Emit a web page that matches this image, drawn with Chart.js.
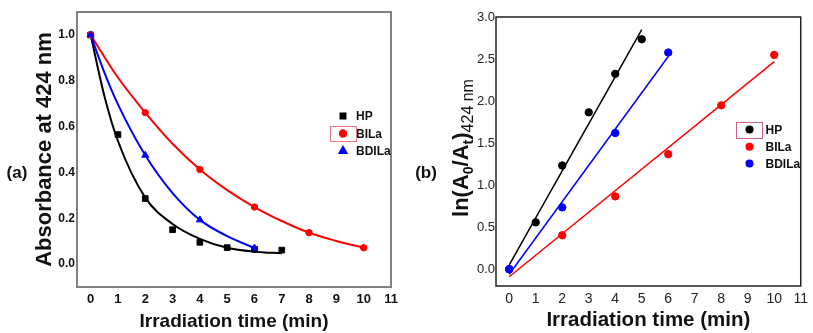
<!DOCTYPE html>
<html>
<head>
<meta charset="utf-8">
<script src="https://cdn.jsdelivr.net/npm/chart.js@4.4.0/dist/chart.umd.min.js"></script>
<style>
  html, body { margin: 0; padding: 0; background: #fff; }
  #wrap { position: relative; width: 813px; height: 333px; }
  canvas { position: absolute; top: 0; }
  #chartA { left: 0; }
  #chartB { left: 410px; }
</style>
</head>
<body>
<div id="wrap">
  <canvas id="chartA" width="410" height="333"></canvas>
  <canvas id="chartB" width="403" height="333"></canvas>
</div>
<script>
// ---- data ----
const seriesNames = ['HP', 'BILa', 'BDILa'];
const seriesColors = ['#000000', '#ff0000', '#0000ff'];
const xTicks = [0, 1, 2, 3, 4, 5, 6, 7, 8, 9, 10, 11];
const yTicksA = [0, 0.2, 0.4, 0.6, 0.8, 1.0];
const yTicksB = [0, 0.5, 1.0, 1.5, 2.0, 2.5, 3.0];

// (a) absorbance at 424 nm
const timeHP = [0, 1, 2, 3, 4, 5, 6, 7];
const absHP = [1.0, 0.565, 0.286, 0.15, 0.095, 0.072, 0.065, 0.061];
const timeBILa = [0, 2, 4, 6, 8, 10];
const absBILa = [1.0, 0.661, 0.413, 0.249, 0.137, 0.071];
const timeBDILa = [0, 2, 4, 6];
const absBDILa = [1.0, 0.475, 0.193, 0.07];

// (a) decay fit curves
const fitTimeHP = [0, 0.5, 1, 2, 3, 4, 5, 6, 7];
const fitHP = [1.0, 0.735, 0.537, 0.29, 0.175, 0.11, 0.071, 0.054, 0.047];
const fitTimeBILa = [0, 1, 2, 3, 4, 5, 6, 7, 8, 9, 10];
const fitBILa = [1.0, 0.814, 0.661, 0.525, 0.413, 0.323, 0.249, 0.188, 0.137, 0.101, 0.071];
const fitTimeBDILa = [0, 0.5, 1, 2, 3, 4, 5, 6];
const fitBDILa = [1.0, 0.837, 0.697, 0.475, 0.31, 0.193, 0.122, 0.07];

// (b) ln(A0/At)
const timeHPb = [0, 1, 2, 3, 4, 5];
const lnHP = [0, 0.557, 1.233, 1.866, 2.324, 2.735];
const timeBILab = [0, 2, 4, 6, 8, 10];
const lnBILa = [0, 0.403, 0.866, 1.368, 1.949, 2.549];
const timeBDILab = [0, 2, 4, 6];
const lnBDILa = [0, 0.735, 1.62, 2.577];

// (b) linear fits (end points)
const lineTimeHP = [0, 5];
const lineHP = [0.05, 2.85];
const lineTimeBILa = [0, 10];
const lineBILa = [-0.09, 2.47];
const lineTimeBDILa = [0, 6];
const lineBDILa = [-0.06, 2.53];

const font = 'Arial, "Liberation Sans", sans-serif';

function pts(xs, ys) {
  return xs.map((x, i) => ({ x: x, y: ys[i] }));
}

function markerSet(label, xs, ys, color, style, r) {
  return {
    label: label, data: pts(xs, ys), showLine: false,
    pointStyle: style, pointRadius: r, pointHoverRadius: r,
    backgroundColor: color, borderColor: color, borderWidth: 1
  };
}

function lineSet(xs, ys, color, w, smooth) {
  return {
    label: '', data: pts(xs, ys), showLine: true, pointRadius: 0, pointHoverRadius: 0,
    borderColor: color, backgroundColor: color, borderWidth: w, fill: false,
    cubicInterpolationMode: smooth ? 'monotone' : 'default', tension: 0
  };
}

function axisX(tickFont, tickColor, titleSize, height) {
  return {
    type: 'linear', min: -0.5, max: 11,
    afterBuildTicks: s => { s.ticks = xTicks.map(v => ({ value: v })); },
    afterFit: s => { s.height = height; },
    grid: { display: false, drawTicks: false },
    border: { display: false },
    ticks: { font: tickFont, color: tickColor, padding: 5, autoSkip: false, maxRotation: 0, callback: v => String(v) },
    title: { display: true, text: 'Irradiation time (min)', color: '#111', padding: 0,
             font: { family: font, size: titleSize, weight: 'bold' } }
  };
}

function drawLegend(ctx, styles, mx, tx, rows, radius) {
  ctx.font = 'bold 12px ' + font;
  ctx.textAlign = 'left';
  ctx.textBaseline = 'middle';
  seriesNames.forEach((name, i) => {
    ctx.fillStyle = seriesColors[i];
    ctx.strokeStyle = seriesColors[i];
    Chart.helpers.drawPoint(ctx, { pointStyle: styles[i], radius: radius[i], rotation: 0, borderWidth: 1 }, mx, rows[i]);
    ctx.fillStyle = '#111';
    ctx.fillText(name, tx, rows[i] + 1);
  });
}

// Chart.js paints the first dataset last, so markers go first (on top),
// with BDILa above BILa above HP where they overlap at t = 0.

// ---- (a) absorbance decay ----
new Chart(document.getElementById('chartA'), {
  type: 'scatter',
  data: {
    datasets: [
      markerSet(seriesNames[2], timeBDILa, absBDILa, seriesColors[2], 'triangle', 4),
      markerSet(seriesNames[1], timeBILa, absBILa, seriesColors[1], 'circle', 3.2),
      markerSet(seriesNames[0], timeHP, absHP, seriesColors[0], 'rect', 4),
      lineSet(fitTimeBDILa, fitBDILa, seriesColors[2], 2, true),
      lineSet(fitTimeBILa, fitBILa, seriesColors[1], 2, true),
      lineSet(fitTimeHP, fitHP, seriesColors[0], 2, true)
    ]
  },
  options: {
    responsive: false,
    animation: false,
    devicePixelRatio: 1,
    layout: { padding: { left: 32, right: 19, top: 12, bottom: 0 } },
    plugins: { legend: { display: false }, tooltip: { enabled: false } },
    scales: {
      x: axisX({ family: font, size: 13, weight: 'bold' }, '#111', 19, 46),
      y: {
        type: 'linear', min: -0.1, max: 1.1,
        afterBuildTicks: s => { s.ticks = yTicksA.map(v => ({ value: v })); },
        afterFit: s => { s.width = 45; },
        grid: { display: false, drawTicks: false },
        border: { display: false },
        ticks: { font: { family: font, size: 12, weight: 'bold' }, color: '#111', padding: 2, callback: v => v.toFixed(1) },
        title: { display: true, text: 'Absorbance at 424 nm', color: '#111', padding: 0,
                 font: { family: font, size: 22, weight: 'bold' } }
      }
    }
  },
  plugins: [{
    id: 'panelA',
    afterDraw(chart) {
      const { ctx, chartArea: a } = chart;
      ctx.save();
      ctx.strokeStyle = '#808080';
      ctx.lineWidth = 2;
      ctx.strokeRect(a.left, a.top, a.right - a.left, a.bottom - a.top);

      drawLegend(ctx, ['rect', 'circle', 'triangle'], 343, 356, [116, 133.5, 151], [3.5, 3.2, 4]);
      ctx.strokeStyle = '#e8798a';
      ctx.lineWidth = 1;
      ctx.strokeRect(330.5, 126.5, 26, 15);

      ctx.fillStyle = '#111';
      ctx.font = 'bold 17px ' + font;
      ctx.textAlign = 'center';
      ctx.textBaseline = 'middle';
      ctx.fillText('(a)', 17, 173);
      ctx.restore();
    }
  }]
});

// ---- (b) first-order kinetics ----
new Chart(document.getElementById('chartB'), {
  type: 'scatter',
  data: {
    datasets: [
      markerSet(seriesNames[2], timeBDILab, lnBDILa, seriesColors[2], 'circle', 3.7),
      markerSet(seriesNames[1], timeBILab, lnBILa, seriesColors[1], 'circle', 3.7),
      markerSet(seriesNames[0], timeHPb, lnHP, seriesColors[0], 'circle', 3.7),
      lineSet(lineTimeBDILa, lineBDILa, seriesColors[2], 1.5, false),
      lineSet(lineTimeBILa, lineBILa, seriesColors[1], 1.5, false),
      lineSet(lineTimeHP, lineHP, seriesColors[0], 1.5, false)
    ]
  },
  options: {
    responsive: false,
    animation: false,
    devicePixelRatio: 1,
    layout: { padding: { left: 0, right: 5, top: 17, bottom: 0 } },
    plugins: { legend: { display: false }, tooltip: { enabled: false } },
    scales: {
      x: axisX({ family: font, size: 14 }, '#222', 20.5, 47),
      y: {
        type: 'linear', min: -0.2, max: 3.0,
        afterBuildTicks: s => { s.ticks = yTicksB.map(v => ({ value: v })); },
        afterFit: s => { s.width = 86; },
        grid: { display: false, drawTicks: false },
        border: { display: false },
        ticks: { font: { family: font, size: 13 }, color: '#222', padding: 1, callback: v => v.toFixed(1) },
        title: { display: false }
      }
    }
  },
  plugins: [{
    id: 'panelB',
    afterDraw(chart) {
      const { ctx, chartArea: a } = chart;
      ctx.save();
      ctx.strokeStyle = '#222';
      ctx.lineWidth = 1.5;
      ctx.strokeRect(a.left, a.top, a.right - a.left, a.bottom - a.top);

      drawLegend(ctx, ['circle', 'circle', 'circle'], 339.5, 355.5, [129.5, 146.7, 163.5], [3.3, 3.3, 3.3]);
      ctx.strokeStyle = '#d0607a';
      ctx.lineWidth = 1;
      ctx.strokeRect(326.5, 122.5, 26, 16);

      // y title with subscripts: ln(A0/At)424 nm
      const parts = [
        { t: 'ln(A', f: 'bold 22px ' + font, dy: 0 },
        { t: '0', f: 'bold 14px ' + font, dy: 5 },
        { t: '/A', f: 'bold 22px ' + font, dy: 0 },
        { t: 't', f: 'bold 14px ' + font, dy: 5 },
        { t: ')', f: 'bold 22px ' + font, dy: 0 },
        { t: '424 nm', f: '16px ' + font, dy: 5 }
      ];
      let total = 0;
      parts.forEach(p => { ctx.font = p.f; p.w = ctx.measureText(p.t).width; total += p.w; });
      ctx.translate(58, 148 + total / 2);
      ctx.rotate(-Math.PI / 2);
      ctx.fillStyle = '#111';
      ctx.textAlign = 'left';
      ctx.textBaseline = 'alphabetic';
      let cx = 0;
      parts.forEach(p => { ctx.font = p.f; ctx.fillText(p.t, cx, p.dy); cx += p.w; });
      ctx.setTransform(1, 0, 0, 1, 0, 0);

      ctx.fillStyle = '#111';
      ctx.font = 'bold 17px ' + font;
      ctx.textAlign = 'center';
      ctx.textBaseline = 'middle';
      ctx.fillText('(b)', 16, 173);
      ctx.restore();
    }
  }]
});
</script>
</body>
</html>
